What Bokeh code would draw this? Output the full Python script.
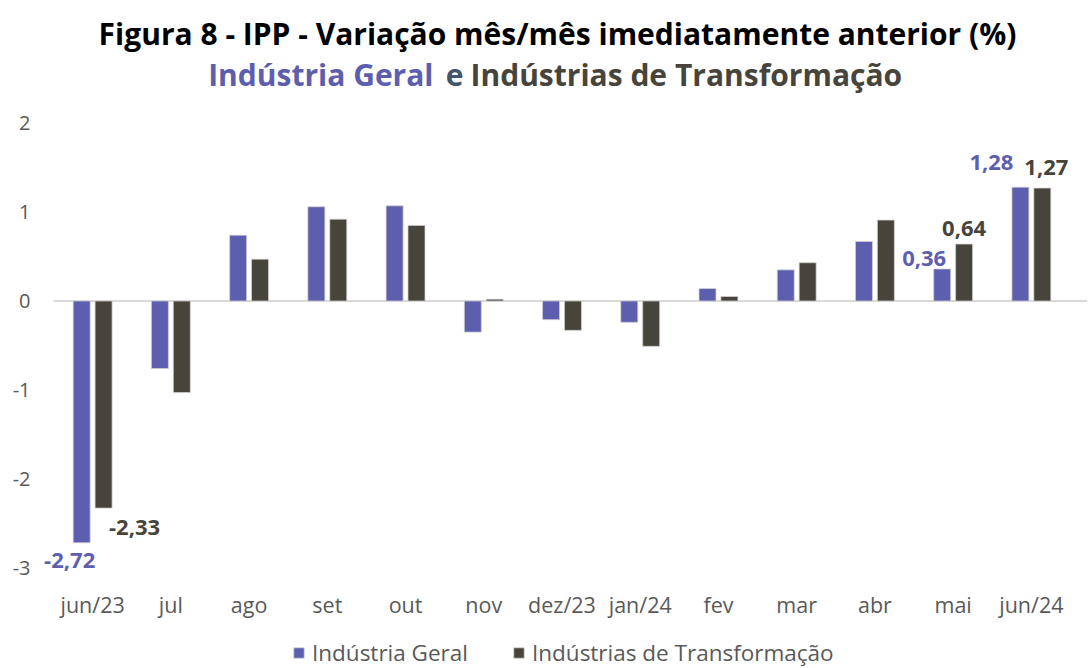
from bokeh.plotting import figure
from bokeh.models import (ColumnDataSource, FactorRange, Range1d, Label,
                          Legend, LegendItem, FixedTicker, CustomJSTickFormatter)
from bokeh.transform import dodge
from bokeh.core.properties import value
from bokeh.embed import file_html
from bokeh.resources import INLINE

# ---- data ----
months = ["jun/23", "jul", "ago", "set", "out", "nov", "dez/23", "jan/24",
          "fev", "mar", "abr", "mai", "jun/24"]
ind_geral = [-2.72, -0.76, 0.74, 1.06, 1.07, -0.35, -0.21, -0.24, 0.14, 0.35, 0.67, 0.36, 1.28]
ind_transf = [-2.33, -1.03, 0.47, 0.92, 0.85, 0.02, -0.33, -0.51, 0.05, 0.43, 0.91, 0.64, 1.27]
series_names = ["Indústria Geral", "Indústrias de Transformação"]
title_text = "Figura 8 - IPP - Variação mês/mês imediatamente anterior (%)"
subtitle_join = "e"
y_ticks = [-3, -2, -1, 0, 1, 2]
labeled_months = ["jun/23", "mai", "jun/24"]

# ---- style ----
PURPLE = "#5E5EAF"
DARK = "#47443C"
JOIN = "#44546A"
GRAY = "#595959"
FONT = "Open Sans"
PAD = 0.2174          # side padding of the category range (category units)
# pixel offsets of the value labels from the bar end (style only)
label_offsets_ig = [(-12, 18), (-18, -10), (-29, -25)]
label_offsets_it = [(31, 19), (0, -16), (4, -21)]

x_range = FactorRange(*months, range_padding=PAD, range_padding_units="absolute")
p = figure(width=1092, height=668, x_range=x_range,
           y_range=Range1d(-4.134, 3.380), output_backend="svg", toolbar_location=None,
           min_border_left=36, min_border_right=5, min_border_top=0,
           min_border_bottom=0)
p.outline_line_color = None
p.grid.visible = False
p.background_fill_color = "white"
p.border_fill_color = "white"

# zero line (from first category edge to the right edge)
p.segment(x0=[0], x1=[len(months) + PAD], y0=[0], y1=[0],
          line_color="#D9D9D9", line_width=2)

src = ColumnDataSource(dict(month=months, ig=ind_geral, it=ind_transf))
r1 = p.vbar(x=dodge("month", -0.14, range=p.x_range), top="ig", bottom=0,
            width=0.217, source=src, fill_color=PURPLE,
            line_color="#D0D0D0", line_width=0.75)
r2 = p.vbar(x=dodge("month", 0.14, range=p.x_range), top="it", bottom=0,
            width=0.217, source=src, fill_color=DARK,
            line_color="#D0D0D0", line_width=0.75)

def fmt(v):
    return f"{v:.2f}".replace(".", ",")

for vals, offs, shift, col in [(ind_geral, label_offsets_ig, -0.14, PURPLE),
                               (ind_transf, label_offsets_it, 0.14, DARK)]:
    lm, lv, lt, lx, ly = [], [], [], [], []
    for m, (ox, oy) in zip(labeled_months, offs):
        i = months.index(m)
        lm.append(m); lv.append(vals[i]); lt.append(fmt(vals[i]))
        lx.append(ox); ly.append(oy)
    ls = ColumnDataSource(dict(month=lm, v=lv, t=lt, xo=lx, yo=ly))
    p.text(x=dodge("month", shift, range=p.x_range), y="v", text="t", source=ls,
           x_offset="xo", y_offset="yo", text_align="center",
           text_baseline="middle", text_color=col, text_font=value(FONT),
           text_font_style="bold", text_font_size="22px")

# axes
p.yaxis.ticker = FixedTicker(ticks=y_ticks)
p.yaxis.formatter = CustomJSTickFormatter(code="return tick.toString()")
p.yaxis.axis_line_color = None
p.yaxis.major_tick_line_color = None
p.yaxis.minor_tick_line_color = None
p.yaxis.major_tick_out = 0
p.yaxis.minor_tick_out = 0
p.yaxis.major_label_text_font = FONT
p.yaxis.major_label_text_font_size = "20px"
p.yaxis.major_label_text_color = GRAY
p.yaxis.major_label_standoff = 6

p.xaxis.fixed_location = -3.1
p.xaxis.axis_line_color = None
p.xaxis.major_tick_line_color = None
p.xaxis.minor_tick_line_color = None
p.xaxis.major_tick_out = 0
p.xaxis.minor_tick_out = 0
p.xaxis.major_label_text_font = FONT
p.xaxis.major_label_text_font_size = "21.5px"
p.xaxis.major_label_text_color = GRAY
p.xaxis.major_label_standoff = 13

# titles (screen coords relative to plot frame bottom-left)
def title_label(x, y, text, align, color):
    p.add_layout(Label(x=x, y=y, x_units="screen", y_units="screen", text=text,
                       text_align=align, text_baseline="middle", text_font=FONT,
                       text_font_style="bold", text_font_size="30px",
                       text_color=color))

title_label(521, 635, title_text, "center", "black")
title_label(397, 594, series_names[0], "right", PURPLE)
title_label(418, 594, subtitle_join, "center", JOIN)
title_label(434, 594, series_names[1], "left", DARK)

legend = Legend(items=[LegendItem(label=series_names[0], renderers=[r1]),
                       LegendItem(label=series_names[1], renderers=[r2])],
                orientation="horizontal", location=(256, 0),
                glyph_width=13, glyph_height=13, label_standoff=7, spacing=44,
                padding=0, margin=0, border_line_color=None, background_fill_alpha=0,
                label_text_font=FONT, label_text_font_size="22.5px",
                label_text_color=GRAY)
p.add_layout(legend, "center")

open("out.html", "w").write(file_html(p, INLINE))
